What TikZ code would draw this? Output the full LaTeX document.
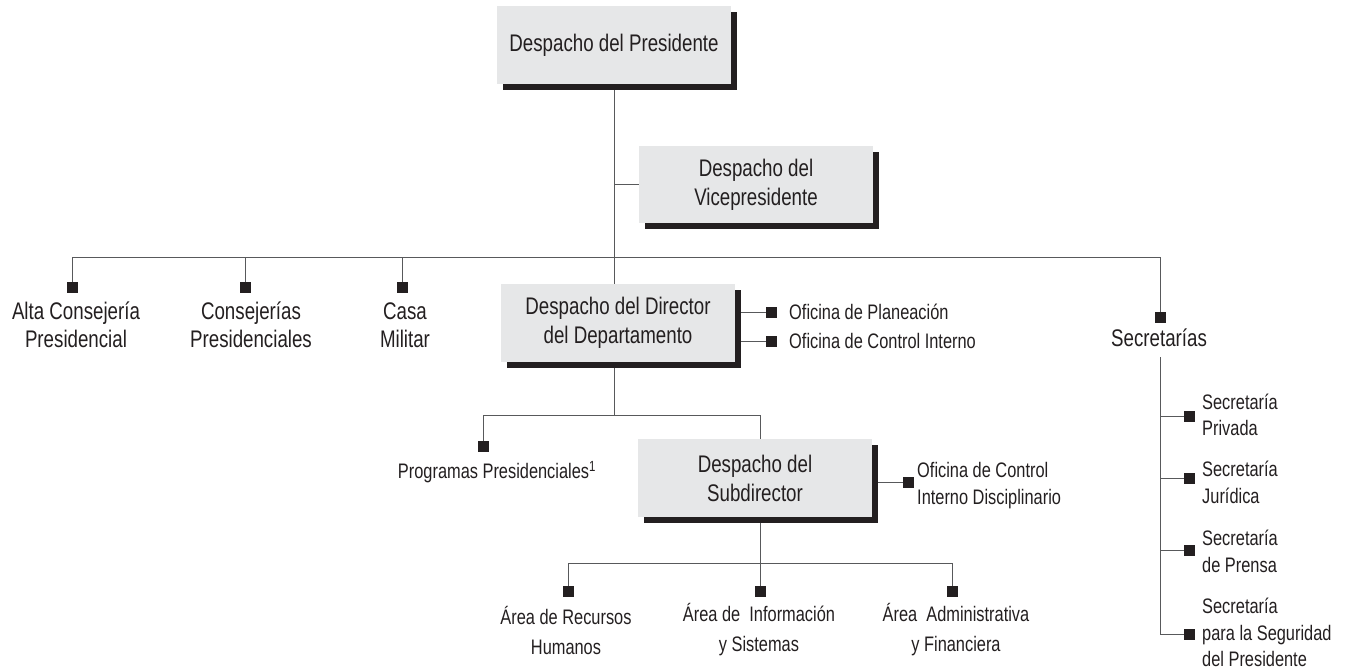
\documentclass[tikz,border=0pt]{standalone}
\usepackage{fontspec}
\setmainfont{Liberation Sans}[FakeStretch=0.78]
\usetikzlibrary{shadows}
\definecolor{boxgray}{HTML}{E6E7E8}
\definecolor{ink}{HTML}{231F20}
\definecolor{linegray}{HTML}{58595B}
\pgfdeclarelayer{bg}\pgfsetlayers{bg,main}
\begin{document}
\begin{tikzpicture}[x=1pt,y=-1pt,
  box/.style={fill=boxgray, text=ink, minimum width=234pt, minimum height=78pt,
    align=center, inner sep=0pt, font=\fontsize{24}{29}\selectfont,
    drop shadow={shadow xshift=6pt, shadow yshift=-6pt, fill=ink, opacity=1}},
  sq/.style={fill=ink, minimum size=11pt, inner sep=0pt},
  big/.style={text=ink, align=center, inner sep=0pt, font=\fontsize{24}{28}\selectfont},
  small/.style={text=ink, align=left, inner sep=0pt, font=\fontsize{21}{26.5}\selectfont},
  bottom/.style={text=ink, align=center, inner sep=0pt, font=\fontsize{21}{30}\selectfont},
  conn/.style={draw=linegray, line width=1pt}]
\useasboundingbox (0,0) rectangle (1349,669);

% boxes
\node[box] (pres) at (614,45) {Despacho del Presidente};
\node[box, minimum height=77pt] (vice) at (756,184.5) {Despacho del\\Vicepresidente};
\node[box] (dir) at (618,323) {Despacho del Director\\del Departamento};
\node[box] (sub) at (755,478) {Despacho del\\Subdirector};

% squares
\node[sq] (sqAlta) at (72,287) {};
\node[sq] (sqCons) at (245,287) {};
\node[sq] (sqCasa) at (402,287) {};
\node[sq] (sqSec) at (1160,317) {};
\node[sq] (sqPlan) at (771,312) {};
\node[sq] (sqCI) at (771,341) {};
\node[sq] (sqProg) at (483,446) {};
\node[sq] (sqOCID) at (908,482) {};
\node[sq] (sqRH) at (568,591) {};
\node[sq] (sqIS) at (760,591) {};
\node[sq] (sqAF) at (952,591) {};
\node[sq] (sqPriv) at (1189,416) {};
\node[sq] (sqJur) at (1189,478) {};
\node[sq] (sqPren) at (1189,550) {};
\node[sq] (sqSeg) at (1189,634) {};

% labels
\node[big] (alta) at (76,325) {Alta Consejería\\Presidencial};
\node[big] (cons) at (251,325) {Consejerías\\Presidenciales};
\node[big] (casa) at (405,325) {Casa\\Militar};
\node[big] (sec) at (1159,338) {Secretarías};
\node[small, anchor=west] (plan) at (789,312) {Oficina de Planeación};
\node[small, anchor=west] (ci) at (789,341) {Oficina de Control Interno};
\node[small] (prog) at (497,472) {Programas Presidenciales\textsuperscript{1}};
\node[small, anchor=west] (ocid) at (917,485.5) {Oficina de Control\\Interno Disciplinario};
\node[bottom] (rh) at (566,630) {Área de Recursos\\Humanos};
\node[bottom] (is) at (759,630) {Área de\ \ Información\\y Sistemas};
\node[bottom] (af) at (956,630) {Área\ \ Administrativa\\y Financiera};
\node[small, anchor=west] (priv) at (1202,415) {Secretaría\\Privada};
\node[small, anchor=west] (jur) at (1202,482.5) {Secretaría\\Jurídica};
\node[small, anchor=west] (pren) at (1202,551.5) {Secretaría\\de Prensa};
\node[small, anchor=west] (seg) at (1202,632.5) {Secretaría\\para la Seguridad\\del Presidente};

% junctions
\coordinate (bar) at (614,257);
\coordinate (j2) at (614,415);
\coordinate (subIn) at (760,439);
\coordinate (subOut) at (760,517);
\coordinate (j3) at (760,563);
\coordinate (secTop) at (1160,357);

\begin{pgfonlayer}{bg}
\draw[conn] (pres.south) -- (pres.south |- dir.north);
\draw[conn] (pres.south |- vice.west) -- (vice.west);
\draw[conn] (sqAlta.center) -- (sqAlta.center |- bar) -- (sqSec.center |- bar) -- (sqSec.center);
\draw[conn] (sqCons.center |- bar) -- (sqCons.center);
\draw[conn] (sqCasa.center |- bar) -- (sqCasa.center);
\draw[conn] (dir.east |- sqPlan) -- (sqPlan.center);
\draw[conn] (dir.east |- sqCI) -- (sqCI.center);
\draw[conn] (pres.south |- dir.south) -- (j2);
\draw[conn] (sqProg.center) -- (sqProg.center |- j2) -- (subIn |- j2) -- (subIn);
\draw[conn] (sub.east |- sqOCID) -- (sqOCID.center);
\draw[conn] (subOut) -- (j3);
\draw[conn] (sqRH.center) -- (sqRH.center |- j3) -- (sqAF.center |- j3) -- (sqAF.center);
\draw[conn] (sqIS.center |- j3) -- (sqIS.center);
\draw[conn] (secTop) -- (secTop |- sqSeg) -- (sqSeg.center);
\draw[conn] (secTop |- sqPriv) -- (sqPriv.center);
\draw[conn] (secTop |- sqJur) -- (sqJur.center);
\draw[conn] (secTop |- sqPren) -- (sqPren.center);
\end{pgfonlayer}
\end{tikzpicture}
\end{document}
